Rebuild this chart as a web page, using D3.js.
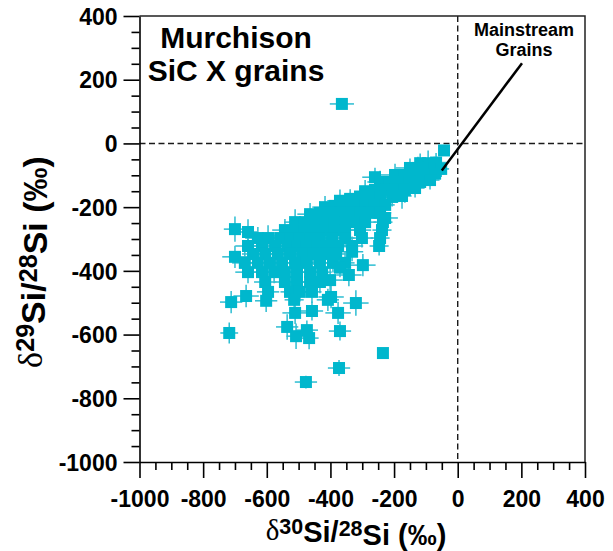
<!DOCTYPE html>
<html>
<head>
<meta charset="utf-8">
<script src="https://cdn.jsdelivr.net/npm/d3@7"></script>
<style>
  body { margin: 0; background: #fff; }
  svg { display: block; }
  text { font-family: "Liberation Sans", Arial, Helvetica, sans-serif; }
</style>
</head>
<body>
<svg id="chart" width="613" height="551"></svg>
<script>
// Axis ranges and labelled ticks (per mil)
const xDomain = [-1000, 400];
const yDomain = [-1000, 400];
const majorTicks = [-1000, -800, -600, -400, -200, 0, 200, 400];
const minorStep = 50;

// Presolar SiC X grains: [δ30Si, δ29Si, σ30, σ29] in ‰
const grains = [
  [-43, -22, 15, 15],
  [-118, -62, 35, 30], [-93, -62, 30, 40], [-68, -60, 40, 30],
  [-150, -77, 45, 30], [-125, -77, 30, 35], [-100, -77, 35, 30], [-74, -77, 30, 35], [-52, -80, 25, 25],
  [-260, -106, 40, 30], [-197, -99, 45, 35], [-166, -99, 30, 30], [-134, -99, 35, 40], [-103, -99, 30, 30], [-71, -95, 30, 35],
  [-244, -121, 40, 35], [-213, -121, 30, 30], [-181, -121, 40, 35], [-150, -121, 30, 30], [-118, -121, 35, 30], [-87, -115, 30, 30],
  [-291, -150, 35, 35], [-260, -146, 40, 30], [-228, -146, 30, 35], [-197, -146, 35, 30], [-166, -146, 30, 40], [-134, -140, 30, 30],
  [-370, -180, 40, 35], [-338, -174, 35, 30], [-307, -168, 30, 30], [-276, -168, 40, 35], [-244, -168, 30, 35], [-206, -168, 35, 30], [-175, -165, 30, 40],
  [-417, -200, 40, 35], [-386, -196, 35, 30], [-354, -193, 30, 35], [-323, -193, 35, 30], [-291, -193, 30, 35], [-260, -193, 40, 30], [-228, -193, 30, 35],
  [-464, -222, 40, 35], [-433, -218, 35, 35], [-401, -218, 30, 30], [-370, -218, 35, 30], [-338, -218, 30, 35], [-307, -218, 40, 30], [-276, -218, 30, 35], [-244, -218, 35, 30],
  [-511, -247, 35, 40], [-480, -247, 40, 35], [-448, -247, 30, 30], [-417, -247, 35, 35], [-386, -247, 30, 30], [-354, -247, 35, 35], [-323, -247, 30, 30], [-291, -247, 35, 30], [-235, -247, 30, 35],
  [-543, -272, 40, 35], [-511, -272, 35, 30], [-480, -272, 30, 35], [-448, -272, 35, 30], [-417, -272, 30, 35], [-386, -272, 35, 30], [-354, -272, 30, 35], [-307, -272, 35, 30], [-238, -272, 30, 30],
  [-628, -297, 40, 35], [-596, -297, 35, 40], [-558, -297, 30, 30], [-527, -297, 35, 35], [-496, -297, 30, 30], [-464, -297, 35, 35], [-433, -297, 30, 30], [-395, -297, 35, 35], [-354, -297, 30, 30], [-301, -297, 35, 30], [-244, -297, 30, 35],
  [-659, -322, 40, 35], [-615, -322, 35, 30], [-574, -322, 30, 35], [-536, -322, 35, 30], [-505, -322, 30, 35], [-474, -322, 35, 30], [-442, -322, 30, 35], [-411, -322, 35, 30], [-376, -322, 30, 35], [-332, -322, 35, 30], [-247, -322, 30, 30],
  [-700, -356, 40, 35], [-643, -347, 35, 30], [-605, -347, 30, 35], [-565, -347, 35, 30], [-527, -347, 30, 35], [-489, -347, 35, 30], [-452, -347, 30, 35], [-417, -347, 35, 30], [-382, -347, 30, 35], [-332, -340, 35, 30],
  [-669, -375, 40, 35], [-628, -375, 35, 30], [-590, -375, 30, 35], [-552, -375, 35, 30], [-511, -375, 30, 35], [-474, -375, 35, 30], [-433, -375, 30, 35], [-392, -375, 35, 30], [-354, -375, 30, 35], [-298, -382, 40, 35],
  [-659, -404, 40, 35], [-615, -404, 35, 30], [-577, -404, 30, 35], [-543, -404, 35, 30], [-505, -404, 30, 35], [-464, -404, 35, 30], [-426, -404, 30, 35], [-370, -390, 35, 30], [-342, -413, 40, 35],
  [-605, -435, 35, 35], [-543, -435, 30, 30], [-505, -435, 35, 35], [-464, -435, 30, 30], [-433, -435, 35, 35], [-401, -429, 40, 35],
  [-665, -479, 40, 35], [-596, -466, 35, 30], [-527, -466, 30, 35], [-496, -466, 35, 30], [-458, -466, 30, 35], [-398, -482, 40, 35],
  [-712, -498, 35, 35], [-602, -494, 35, 35], [-514, -491, 30, 30], [-408, -491, 35, 35], [-320, -501, 40, 40],
  [-718, -595, 28, 33], [-511, -532, 40, 35], [-458, -526, 35, 30], [-536, -576, 35, 40], [-508, -605, 30, 40],
  [-467, -611, 30, 35], [-474, -586, 35, 30], [-376, -532, 40, 35], [-370, -589, 35, 30], [-477, -749, 35, 20],
  [-373, -705, 35, 25], [-235, -658, 15, 15], [-364, 124, 38, 12], [-700, -269, 35, 40], [-659, -278, 30, 40],
  [-228, -234, 40, 35]
];

const titleLines = ["Murchison", "SiC X grains"];
const noteLines = ["Mainstream", "Grains"];
// pointer from the note down to the mainstream grain region (‰ coordinates)
const notePointer = [[202, 252], [-50, -85]];

const plot = { left: 139.5, right: 585, top: 16, bottom: 462 };
const grainColor = "#00b7cd";

const svg = d3.select("#chart");
const x = d3.scaleLinear().domain(xDomain).range([plot.left, plot.right]);
const y = d3.scaleLinear().domain(yDomain).range([plot.bottom, plot.top]);

// zero reference lines
const zero = svg.append("g")
  .attr("stroke", "#1a1a1a").attr("stroke-width", 1.4).attr("stroke-dasharray", "6,3.5");
zero.append("line").attr("x1", x(0)).attr("x2", x(0)).attr("y1", plot.top).attr("y2", plot.bottom);
zero.append("line").attr("x1", plot.left).attr("x2", plot.right).attr("y1", y(0)).attr("y2", y(0));

// error bars first, then the grain squares over them
const bars = svg.append("g").attr("stroke", "#2cbdd2").attr("stroke-width", 1.5);
bars.selectAll("line.h").data(grains).join("line").attr("class", "h")
  .attr("x1", d => x(d[0] - d[2])).attr("x2", d => x(d[0] + d[2]))
  .attr("y1", d => y(d[1])).attr("y2", d => y(d[1]));
bars.selectAll("line.v").data(grains).join("line").attr("class", "v")
  .attr("x1", d => x(d[0])).attr("x2", d => x(d[0]))
  .attr("y1", d => y(d[1] - d[3])).attr("y2", d => y(d[1] + d[3]));

const S = 12;
svg.append("g").attr("fill", grainColor)
  .selectAll("rect").data(grains).join("rect")
  .attr("x", d => x(d[0]) - S / 2).attr("y", d => y(d[1]) - S / 2)
  .attr("width", S).attr("height", S);

// frame (top and right edges)
svg.append("path")
  .attr("d", `M${plot.left},${plot.top}H${plot.right}V${plot.bottom}`)
  .attr("fill", "none").attr("stroke", "#222").attr("stroke-width", 1.5);

// axes
const minorTicks = d3.range(xDomain[0], xDomain[1] + 1, minorStep).filter(v => !majorTicks.includes(v));
const plain = d => String(d);

function styleAxis(g) {
  g.selectAll("line, path").attr("stroke", "#000").attr("stroke-width", 1.6);
}
function styleLabels(sel) {
  sel.attr("font-size", 23).attr("font-weight", "bold").attr("fill", "#000")
    .attr("font-family", "'Liberation Sans', Arial, sans-serif");
}

svg.append("g").attr("transform", `translate(0,${plot.bottom})`)
  .call(d3.axisBottom(x).tickValues(minorTicks).tickSize(8).tickSizeOuter(0).tickFormat(""))
  .call(g => g.select(".domain").remove()).call(styleAxis);
const gx = svg.append("g").attr("transform", `translate(0,${plot.bottom})`)
  .call(d3.axisBottom(x).tickValues(majorTicks).tickSize(16).tickSizeOuter(0).tickFormat(plain))
  .call(styleAxis);
gx.selectAll("text").attr("y", 45).attr("dy", null).call(styleLabels);

svg.append("g").attr("transform", `translate(${plot.left},0)`)
  .call(d3.axisLeft(y).tickValues(minorTicks).tickSize(8).tickSizeOuter(0).tickFormat(""))
  .call(g => g.select(".domain").remove()).call(styleAxis);
const gy = svg.append("g").attr("transform", `translate(${plot.left},0)`)
  .call(d3.axisLeft(y).tickValues(majorTicks).tickSize(16).tickSizeOuter(0).tickPadding(6).tickFormat(plain))
  .call(styleAxis);
gy.selectAll("text").attr("dy", "0.36em").call(styleLabels);

// axis titles
function isoLabel(sel, mass) {
  sel.append("tspan").attr("font-family", "'Liberation Serif', 'Times New Roman', serif")
    .attr("font-weight", "normal").text("δ");
  sel.append("tspan").attr("font-size", "0.74em").attr("dy", "-0.3em").text(mass);
  sel.append("tspan").attr("dy", "0.3em").text("Si/");
  sel.append("tspan").attr("font-size", "0.74em").attr("dy", "-0.3em").text("28");
  sel.append("tspan").attr("dy", "0.3em").text("Si (‰)");
}
svg.append("text").attr("x", 356).attr("y", 540)
  .attr("text-anchor", "middle").attr("font-size", 29).attr("font-weight", "bold")
  .call(isoLabel, "30");
svg.append("text").attr("transform", "translate(42,262) rotate(-90)")
  .attr("text-anchor", "middle").attr("font-size", 34).attr("font-weight", "bold")
  .call(isoLabel, "29");

// sample title
svg.append("g").selectAll("text").data(titleLines).join("text")
  .attr("x", 236).attr("y", (d, i) => 48 + i * 33)
  .attr("text-anchor", "middle").attr("font-size", 30).attr("font-weight", "bold")
  .text(d => d);

// mainstream note
svg.append("g").selectAll("text").data(noteLines).join("text")
  .attr("x", 524).attr("y", (d, i) => 36 + i * 20)
  .attr("text-anchor", "middle").attr("font-size", 18).attr("font-weight", "bold")
  .text(d => d);
svg.append("line")
  .attr("x1", x(notePointer[0][0])).attr("y1", y(notePointer[0][1]))
  .attr("x2", x(notePointer[1][0])).attr("y2", y(notePointer[1][1]))
  .attr("stroke", "#000").attr("stroke-width", 2.5);
</script>
</body>
</html>
